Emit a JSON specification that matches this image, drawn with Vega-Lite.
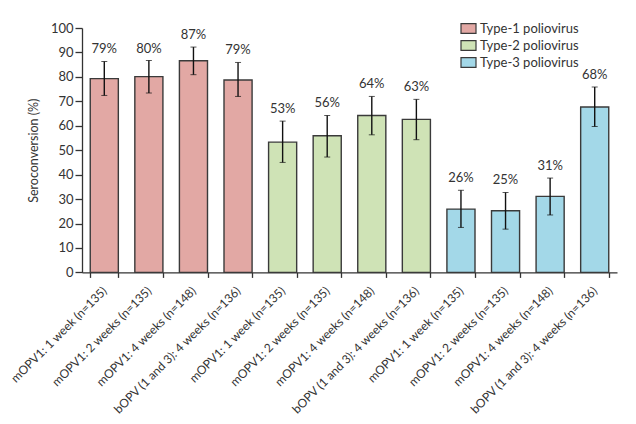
{
  "$schema": "https://vega.github.io/schema/vega-lite/v6.json",
  "width": 535,
  "height": 244.4,
  "autosize": {"type": "none"},
  "padding": {"left": 82, "top": 28, "right": 19, "bottom": 151.6},
  "background": "white",
  "config": {
    "font": "Lato",
    "view": {"stroke": null},
    "axis": {"domainColor": "#333", "tickColor": "#333", "labelColor": "#333", "titleColor": "#333", "grid": false, "domainWidth": 1.3, "tickWidth": 1.3},
    "axisY": {"titleFontSize": 12.5, "titleFontWeight": "normal", "titlePadding": 10, "labelOverlap": false, "labelFontSize": 13, "tickSize": 7, "labelPadding": 2}
  },
  "data": {
    "values": [
      {"key": "01|mOPV1: 1 week (n=135)", "type": "Type-1 poliovirus", "value": 79.3, "lo": 72.4, "hi": 86.3, "pct": "79%"},
      {"key": "02|mOPV1: 2 weeks (n=135)", "type": "Type-1 poliovirus", "value": 80.1, "lo": 73.4, "hi": 86.7, "pct": "80%"},
      {"key": "03|mOPV1: 4 weeks (n=148)", "type": "Type-1 poliovirus", "value": 86.6, "lo": 80.9, "hi": 92.2, "pct": "87%"},
      {"key": "04|bOPV (1 and 3): 4 weeks (n=136)", "type": "Type-1 poliovirus", "value": 78.7, "lo": 72.0, "hi": 85.9, "pct": "79%"},
      {"key": "05|mOPV1: 1 week (n=135)", "type": "Type-2 poliovirus", "value": 53.3, "lo": 45.0, "hi": 61.9, "pct": "53%"},
      {"key": "06|mOPV1: 2 weeks (n=135)", "type": "Type-2 poliovirus", "value": 55.9, "lo": 47.2, "hi": 64.2, "pct": "56%"},
      {"key": "07|mOPV1: 4 weeks (n=148)", "type": "Type-2 poliovirus", "value": 64.2, "lo": 56.3, "hi": 72.0, "pct": "64%"},
      {"key": "08|bOPV (1 and 3): 4 weeks (n=136)", "type": "Type-2 poliovirus", "value": 62.6, "lo": 54.3, "hi": 70.8, "pct": "63%"},
      {"key": "09|mOPV1: 1 week (n=135)", "type": "Type-3 poliovirus", "value": 25.9, "lo": 18.4, "hi": 33.6, "pct": "26%"},
      {"key": "10|mOPV1: 2 weeks (n=135)", "type": "Type-3 poliovirus", "value": 25.2, "lo": 17.7, "hi": 32.7, "pct": "25%"},
      {"key": "11|mOPV1: 4 weeks (n=148)", "type": "Type-3 poliovirus", "value": 31.1, "lo": 23.5, "hi": 38.6, "pct": "31%"},
      {"key": "12|bOPV (1 and 3): 4 weeks (n=136)", "type": "Type-3 poliovirus", "value": 67.7, "lo": 59.7, "hi": 75.9, "pct": "68%"}
    ]
  },
  "encoding": {
    "x": {
      "field": "key",
      "type": "nominal",
      "sort": null,
      "scale": {"paddingInner": 0.37, "paddingOuter": 0.185},
      "axis": {
        "title": null,
        "labelExpr": "split(datum.label, '|')[1]",
        "labelAngle": -45,
        "labelAlign": "right",
        "labelBaseline": "middle",
        "labelFontSize": 12,
        "labelPadding": 11,
        "tickBand": "extent",
        "tickSize": 5
      }
    }
  },
  "layer": [
    {
      "mark": {"type": "bar", "stroke": "#3a3a3a", "strokeWidth": 1.4},
      "encoding": {
        "y": {
          "field": "value",
          "type": "quantitative",
          "title": "Seroconversion (%)",
          "scale": {"domain": [0, 100], "nice": false},
          "axis": {"values": [0,10,20,30,40,50,60,70,80,90,100]}
        },
        "fill": {
          "field": "type",
          "type": "nominal",
          "scale": {"domain": ["Type-1 poliovirus", "Type-2 poliovirus", "Type-3 poliovirus"], "range": ["#e2a8a4", "#cfe3b6", "#a3d8e8"]},
          "legend": {
            "title": null,
            "orient": "none",
            "legendX": 378,
            "legendY": -8,
            "labelFontSize": 13,
            "labelColor": "#333",
            "symbolType": "M-1,-0.66H1V0.66H-1Z",
            "symbolSize": 225,
            "symbolStrokeColor": "#3a3a3a",
            "symbolStrokeWidth": 1.2,
            "symbolOpacity": 1,
            "rowPadding": 1,
            "labelOffset": 3
          }
        }
      }
    },
    {
      "mark": {"type": "errorbar", "ticks": {"size": 6, "color": "#111", "strokeWidth": 1.4}, "rule": {"color": "#111", "strokeWidth": 1.4}},
      "encoding": {
        "y": {"field": "lo", "type": "quantitative", "title": "Seroconversion (%)", "axis": {"values": [0,10,20,30,40,50,60,70,80,90,100]}},
        "y2": {"field": "hi"}
      }
    },
    {
      "mark": {"type": "text", "baseline": "bottom", "dy": -5, "fontSize": 13, "color": "#333"},
      "encoding": {
        "y": {"field": "hi", "type": "quantitative", "title": "Seroconversion (%)", "axis": {"values": [0,10,20,30,40,50,60,70,80,90,100]}},
        "text": {"field": "pct"}
      }
    }
  ]
}
